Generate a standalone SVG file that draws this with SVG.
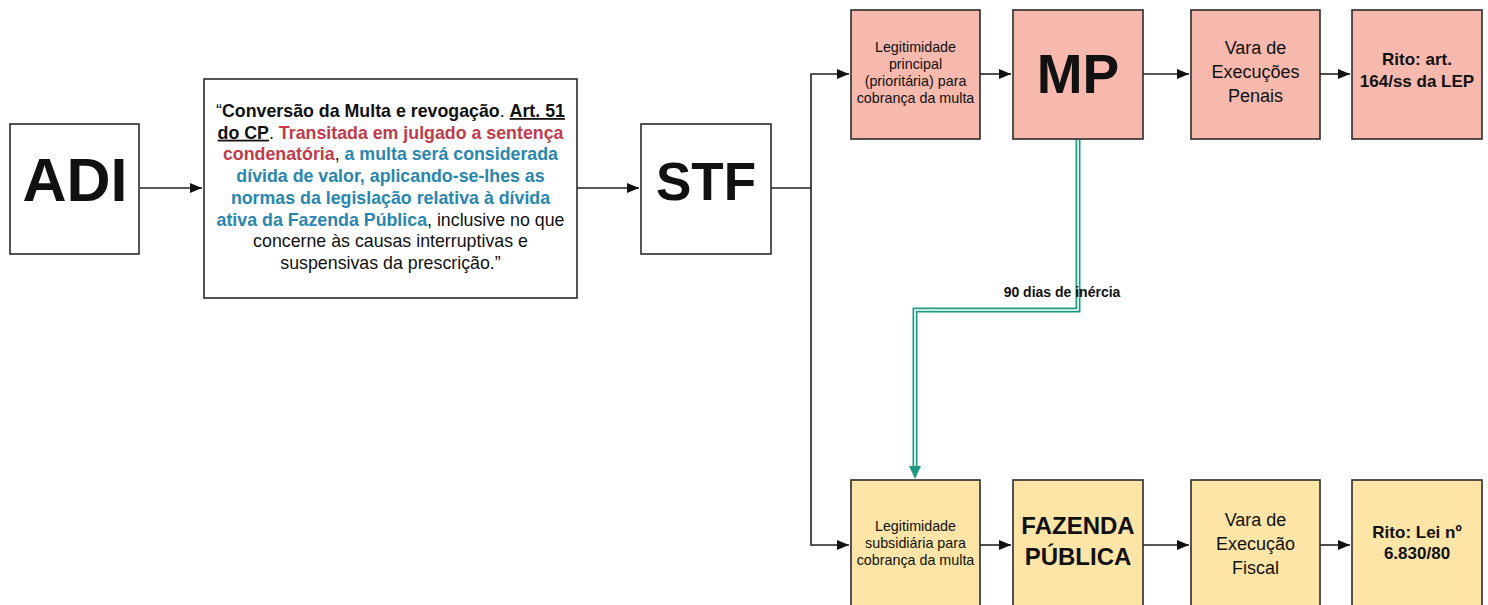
<svg xmlns="http://www.w3.org/2000/svg" width="1488" height="605" viewBox="0 0 1488 605">
<style>
text{font-family:"Liberation Sans",Arial,sans-serif;fill:#111;}
.box{stroke:#2b2b2b;stroke-width:1.6;}
.w{fill:#fff;}
.p{fill:#f7b8ad;}
.y{fill:#fce5a6;}
.b{font-weight:bold;}
.c{text-anchor:middle;}
.q{font-size:17.8px;}
.red{fill:#c23b4b;font-weight:bold;}
.blue{fill:#2a86ae;font-weight:bold;}
.u{text-decoration:underline;font-weight:bold;}
.conn{fill:none;stroke:#222;stroke-width:1.6;}
</style>
<defs>
<marker id="ah" markerUnits="userSpaceOnUse" markerWidth="14" markerHeight="12" refX="12" refY="5" orient="auto">
<path d="M0,0 L12,5 L0,10 Z" fill="#111"/>
</marker>
</defs>

<g id="connectors">
<path class="conn" d="M140,188 H202" marker-end="url(#ah)"/>
<path class="conn" d="M577,188 H639" marker-end="url(#ah)"/>
<path class="conn" d="M771,188 H811 V74 H849" marker-end="url(#ah)"/>
<path class="conn" d="M811,188 V545 H849" marker-end="url(#ah)"/>
<path class="conn" d="M980,74 H1011" marker-end="url(#ah)"/>
<path class="conn" d="M1143,74 H1189" marker-end="url(#ah)"/>
<path class="conn" d="M1320,74 H1350" marker-end="url(#ah)"/>
<path class="conn" d="M980,545 H1011" marker-end="url(#ah)"/>
<path class="conn" d="M1143,545 H1189" marker-end="url(#ah)"/>
<path class="conn" d="M1320,545 H1350" marker-end="url(#ah)"/>
<g id="inercia">
<path d="M1078,139 V310 H915 V466" fill="none" stroke="#1f9a82" stroke-width="5"/>
<path d="M1078,139 V310 H915 V466" fill="none" stroke="#ffffff" stroke-width="1.6"/>
<path d="M909,466 L921,466 L915,479 Z" fill="#1f9a82"/>
<text class="b c" x="1062" y="297" font-size="14">90 dias de inércia</text>
</g>
</g>

<g id="adi">
<rect class="box w" x="10" y="124" width="129" height="130"/>
<text class="b c" x="75" y="201" font-size="61">ADI</text>
</g>

<g id="citacao">
<rect class="box w" x="204" y="79" width="373" height="219"/>
<text class="c q" x="390.5" y="117">“<tspan class="b">Conversão da Multa e revogação</tspan>. <tspan class="u">Art. 51</tspan></text>
<text class="c q" x="390.5" y="138.7"><tspan class="u">do CP</tspan>. <tspan class="red">Transitada em julgado a sentença</tspan></text>
<text class="c q" x="390.5" y="160.4"><tspan class="red">condenatória</tspan>, <tspan class="blue">a multa será considerada</tspan></text>
<text class="c q blue" x="390.5" y="182.1">dívida de valor, aplicando-se-lhes as</text>
<text class="c q blue" x="390.5" y="203.8">normas da legislação relativa à dívida</text>
<text class="c q" x="390.5" y="225.5"><tspan class="blue">ativa da Fazenda Pública</tspan>, inclusive no que</text>
<text class="c q" x="390.5" y="247.2">concerne às causas interruptivas e</text>
<text class="c q" x="390.5" y="268.9">suspensivas da prescrição.”</text>
</g>

<g id="stf">
<rect class="box w" x="641" y="124" width="130" height="130"/>
<text class="b c" x="706" y="200" font-size="53">STF</text>
</g>

<g id="legit-principal">
<rect class="box p" x="851" y="10" width="129" height="129"/>
<text class="c" x="915.5" y="52" font-size="14.3">Legitimidade</text>
<text class="c" x="915.5" y="69" font-size="14.3">principal</text>
<text class="c" x="915.5" y="86" font-size="14.3">(prioritária) para</text>
<text class="c" x="915.5" y="103" font-size="14.3">cobrança da multa</text>
</g>

<g id="mp">
<rect class="box p" x="1013" y="10" width="130" height="129"/>
<text class="b c" x="1078" y="93" font-size="55">MP</text>
</g>

<g id="vep">
<rect class="box p" x="1191" y="10" width="129" height="129"/>
<text class="c" x="1255.5" y="54" font-size="18">Vara de</text>
<text class="c" x="1255.5" y="78" font-size="18">Execuções</text>
<text class="c" x="1255.5" y="102" font-size="18">Penais</text>
</g>

<g id="rito-lep">
<rect class="box p" x="1352" y="10" width="130" height="129"/>
<text class="b c" x="1417" y="65" font-size="17">Rito: art.</text>
<text class="b c" x="1417" y="87" font-size="17">164/ss da LEP</text>
</g>

<g id="legit-subsidiaria">
<rect class="box y" x="851" y="480" width="129" height="130"/>
<text class="c" x="915.5" y="531" font-size="14.3">Legitimidade</text>
<text class="c" x="915.5" y="548" font-size="14.3">subsidiária para</text>
<text class="c" x="915.5" y="565" font-size="14.3">cobrança da multa</text>
</g>

<g id="fazenda">
<rect class="box y" x="1013" y="480" width="130" height="130"/>
<text class="b c" x="1078" y="534" font-size="24">FAZENDA</text>
<text class="b c" x="1078" y="565" font-size="24">PÚBLICA</text>
</g>

<g id="vef">
<rect class="box y" x="1191" y="480" width="129" height="130"/>
<text class="c" x="1255.5" y="526" font-size="18">Vara de</text>
<text class="c" x="1255.5" y="550" font-size="18">Execução</text>
<text class="c" x="1255.5" y="574" font-size="18">Fiscal</text>
</g>

<g id="rito-lef">
<rect class="box y" x="1352" y="480" width="130" height="130"/>
<text class="b c" x="1417" y="538" font-size="17">Rito: Lei nº</text>
<text class="b c" x="1417" y="559" font-size="17">6.830/80</text>
</g>
</svg>
